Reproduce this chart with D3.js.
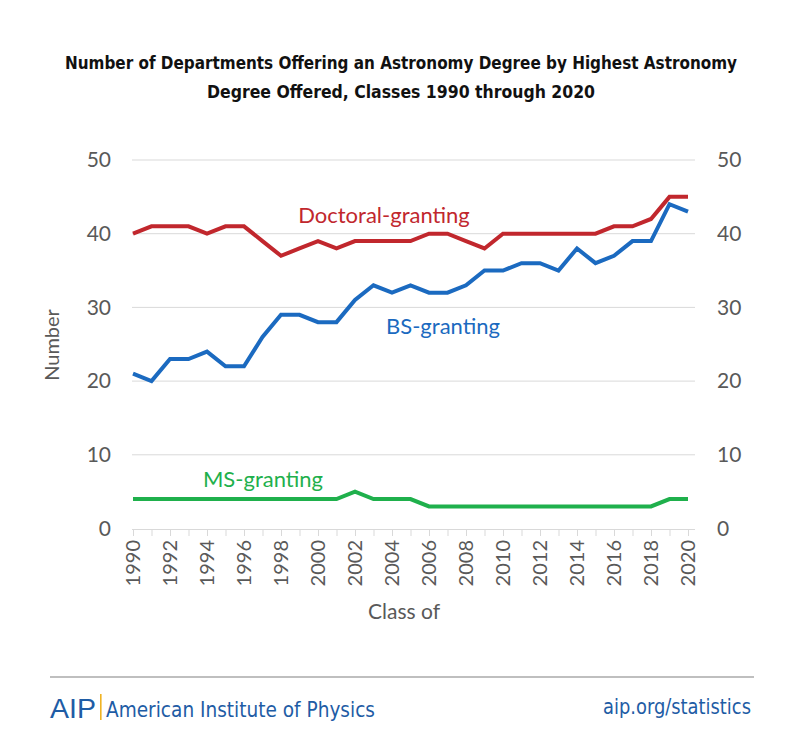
<!DOCTYPE html>
<html><head><meta charset="utf-8">
<script src="https://cdn.jsdelivr.net/npm/d3@7/dist/d3.min.js"></script>
<style>body{margin:0;background:#fff}svg{display:block}</style>
</head><body>
<svg id="c" width="800" height="755"></svg>
<script>
const years = d3.range(1990, 2021);
const doctoral = [40,41,41,41,40,41,41,39,37,38,39,38,39,39,39,39,40,40,39,38,40,40,40,40,40,40,41,41,42,45,45];
const bs = [21,20,23,23,24,22,22,26,29,29,28,28,31,33,32,33,32,32,33,35,35,36,36,35,38,36,37,39,39,44,43];
const ms = [4,4,4,4,4,4,4,4,4,4,4,4,5,4,4,4,3,3,3,3,3,3,3,3,3,3,3,3,3,4,4];
const yTicks = [0,10,20,30,40,50];
const xTickLabels = d3.range(1990, 2021, 2);
const titleLines = ["Number of Departments Offering an Astronomy Degree by Highest Astronomy","Degree Offered, Classes 1990 through 2020"];

const svg = d3.select("#c");
const x = d3.scaleLinear().domain([1990, 2020]).range([133, 688]);
const y = d3.scaleLinear().domain([0, 50]).range([528.5, 160]);
const tickFont = "Lato, 'Open Sans', sans-serif";
const grey = "#595959";

// title
const tw = [672, 388];
titleLines.forEach((t, i) => {
  svg.append("text").attr("x", 401).attr("y", 69 + i * 29)
    .attr("text-anchor", "middle")
    .attr("font-family", "'Liberation Sans Narrow','DejaVu Sans Condensed',sans-serif")
    .attr("font-weight", "bold").attr("font-size", 18).attr("fill", "#111")
    .attr("textLength", tw[i]).attr("lengthAdjust", "spacingAndGlyphs")
    .text(t);
});

// gridlines
svg.append("g").selectAll("line").data(yTicks.filter(d => d > 0)).join("line")
  .attr("x1", 132).attr("x2", 695).attr("y1", d => y(d)).attr("y2", d => y(d))
  .attr("stroke", "#d9d9d9").attr("stroke-width", 1);

// y labels left and right
const yl = d3.axisLeft(y).tickValues(yTicks).tickSize(0).tickPadding(0);
const gL = svg.append("g").attr("transform", "translate(111,0)").call(yl);
const yr = d3.axisRight(y).tickValues(yTicks).tickSize(0).tickPadding(0);
const gR = svg.append("g").attr("transform", "translate(717,0)").call(yr);
[gL, gR].forEach(g => {
  g.select(".domain").remove();
  g.selectAll("text").attr("font-family", tickFont).attr("font-size", 21).attr("fill", grey);
});

// x axis
const xa = d3.axisBottom(x).tickValues(years).tickSize(7).tickFormat("");
const gX = svg.append("g").attr("transform", "translate(0,529)").call(xa);
gX.select(".domain").attr("d", "M132,0.5H695").attr("stroke", "#d9d9d9");
gX.selectAll(".tick line").attr("stroke", "#d9d9d9");
svg.append("g").selectAll("text").data(xTickLabels).join("text")
  .attr("transform", d => `translate(${x(d) + 7},540) rotate(-90)`)
  .attr("text-anchor", "end")
  .attr("font-family", tickFont).attr("font-size", 20).attr("fill", grey)
  .text(d => d);

// axis titles
svg.append("text").attr("transform", "translate(59,345) rotate(-90)")
  .attr("text-anchor", "middle").attr("font-family", tickFont).attr("font-size", 20).attr("fill", grey)
  .text("Number");
svg.append("text").attr("x", 404).attr("y", 619)
  .attr("text-anchor", "middle").attr("font-family", tickFont).attr("font-size", 21).attr("fill", grey)
  .text("Class of");

// lines
const line = d3.line().x((d, i) => x(years[i])).y(d => y(d));
const series = [
  {name: "Doctoral-granting", values: doctoral, color: "#c1272d", lx: 384, ly: 223},
  {name: "BS-granting", values: bs, color: "#1b6ac0", lx: 443, ly: 334},
  {name: "MS-granting", values: ms, color: "#1fb04c", lx: 263, ly: 487}
];
series.forEach(s => {
  svg.append("path").attr("d", line(s.values)).attr("fill", "none")
    .attr("stroke", s.color).attr("stroke-width", 4).attr("stroke-linejoin", "miter");
  svg.append("text").attr("x", s.lx).attr("y", s.ly).attr("text-anchor", "middle")
    .attr("font-family", tickFont).attr("font-size", 22).attr("fill", s.color).text(s.name);
});

// footer
svg.append("line").attr("x1", 50).attr("x2", 754).attr("y1", 677).attr("y2", 677)
  .attr("stroke", "#aaaaaa").attr("stroke-width", 1.5);
const blue = "#1e5ca5";
svg.append("text").attr("x", 50).attr("y", 718)
  .attr("font-family", "'Liberation Sans','DejaVu Sans',sans-serif").attr("font-size", 27)
  .attr("fill", blue).attr("textLength", 46).attr("lengthAdjust", "spacingAndGlyphs").text("AIP");
svg.append("rect").attr("x", 100).attr("y", 694).attr("width", 1.6).attr("height", 26).attr("fill", "#f0b323");
svg.append("text").attr("x", 106).attr("y", 717)
  .attr("font-family", "'Liberation Sans Narrow','DejaVu Sans Condensed',sans-serif").attr("font-size", 22)
  .attr("fill", blue).attr("textLength", 269).attr("lengthAdjust", "spacingAndGlyphs").text("American Institute of Physics");
svg.append("text").attr("x", 751).attr("y", 714).attr("text-anchor", "end")
  .attr("font-family", "'Liberation Sans Narrow','DejaVu Sans Condensed',sans-serif").attr("font-size", 22)
  .attr("fill", blue).attr("textLength", 148).attr("lengthAdjust", "spacingAndGlyphs").text("aip.org/statistics");
</script>
</body></html>
